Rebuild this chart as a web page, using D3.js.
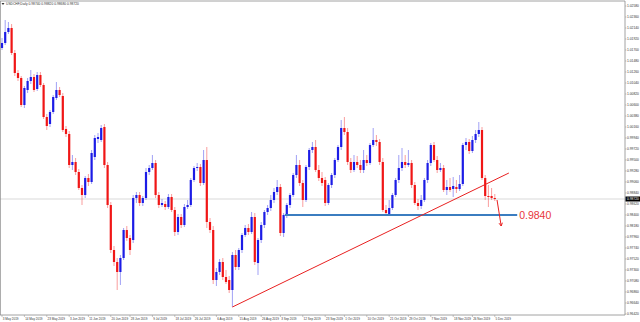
<!DOCTYPE html>
<html><head><meta charset="utf-8">
<script src="https://cdn.jsdelivr.net/npm/d3@7/dist/d3.min.js"></script>
<style>html,body{margin:0;padding:0;background:#fff;overflow:hidden}</style>
</head><body>
<svg id="c" width="640" height="322"></svg>
<script>
const symbol = "USDCHF,Daily";
// [open, high, low, close] per daily bar, 2 May 2019 .. 5 Dec 2019
const candles = [
[1.0164,1.0180,1.0158,1.0174],[1.0174,1.0194,1.0170,1.0184],[1.0184,1.0230,1.0180,1.0206],[1.0206,1.0226,1.0202,1.0214],
[1.0214,1.0222,1.0160,1.0164],[1.0164,1.0170,1.0118,1.0124],[1.0124,1.0130,1.0108,1.0114],[1.0114,1.0118,1.0056,1.0060],
[1.0060,1.0098,1.0054,1.0094],[1.0090,1.0114,1.0084,1.0108],[1.0108,1.0130,1.0102,1.0116],[1.0116,1.0122,1.0086,1.0090],
[1.0092,1.0126,1.0088,1.0120],[1.0120,1.0126,1.0096,1.0100],[1.0100,1.0104,1.0032,1.0036],[1.0036,1.0042,1.0010,1.0018],
[1.0022,1.0050,1.0016,1.0046],[1.0046,1.0080,1.0042,1.0076],[1.0074,1.0106,1.0070,1.0090],[1.0090,1.0096,1.0076,1.0080],
[1.0078,1.0084,1.0006,1.0010],[1.0012,1.0018,0.9996,1.0002],[1.0002,1.0008,0.9934,0.9940],[0.9940,0.9960,0.9930,0.9946],
[0.9946,0.9954,0.9920,0.9926],[0.9926,0.9932,0.9890,0.9894],[0.9894,0.9900,0.9860,0.9880],[0.9880,0.9918,0.9874,0.9914],
[0.9914,0.9922,0.9898,0.9906],[0.9906,0.9970,0.9902,0.9964],[0.9956,1.0000,0.9950,0.9994],[0.9992,1.0004,0.9984,0.9996],
[0.9990,1.0020,0.9986,1.0014],[1.0016,1.0022,0.9934,0.9940],[0.9940,0.9946,0.9854,0.9860],[0.9860,0.9866,0.9764,0.9770],
[0.9770,0.9778,0.9738,0.9746],[0.9746,0.9754,0.9690,0.9726],[0.9726,0.9760,0.9700,0.9754],[0.9754,0.9814,0.9750,0.9810],
[0.9810,0.9818,0.9788,0.9794],[0.9794,0.9800,0.9760,0.9770],[0.9790,0.9880,0.9784,0.9874],[0.9874,0.9886,0.9864,0.9880],
[0.9880,0.9886,0.9858,0.9864],[0.9864,0.9878,0.9858,0.9874],[0.9874,0.9934,0.9870,0.9926],[0.9926,0.9940,0.9920,0.9934],
[0.9934,0.9960,0.9930,0.9944],[0.9944,0.9950,0.9874,0.9880],[0.9880,0.9886,0.9854,0.9860],[0.9860,0.9872,0.9856,0.9864],
[0.9862,0.9868,0.9850,0.9856],[0.9856,0.9882,0.9852,0.9876],[0.9876,0.9882,0.9846,0.9850],[0.9850,0.9856,0.9798,0.9806],
[0.9806,0.9842,0.9800,0.9836],[0.9836,0.9842,0.9814,0.9820],[0.9820,0.9862,0.9816,0.9856],[0.9856,0.9870,0.9852,0.9860],
[0.9860,0.9914,0.9856,0.9910],[0.9910,0.9938,0.9906,0.9934],[0.9934,0.9944,0.9928,0.9936],[0.9936,0.9942,0.9898,0.9904],
[0.9904,0.9970,0.9900,0.9950],[0.9950,0.9976,0.9814,0.9826],[0.9826,0.9834,0.9804,0.9810],[0.9810,0.9818,0.9702,0.9710],
[0.9710,0.9734,0.9698,0.9726],[0.9726,0.9752,0.9720,0.9746],[0.9746,0.9754,0.9710,0.9716],[0.9716,0.9730,0.9702,0.9706],
[0.9710,0.9718,0.9684,0.9690],[0.9690,0.9766,0.9656,0.9760],[0.9760,0.9770,0.9730,0.9736],[0.9736,0.9774,0.9730,0.9770],
[0.9770,0.9804,0.9764,0.9800],[0.9800,0.9820,0.9796,0.9814],[0.9814,0.9822,0.9800,0.9806],[0.9806,0.9846,0.9802,0.9836],
[0.9836,0.9844,0.9740,0.9746],[0.9744,0.9794,0.9720,0.9790],[0.9790,0.9826,0.9784,0.9820],[0.9820,0.9850,0.9814,0.9846],
[0.9846,0.9860,0.9840,0.9854],[0.9854,0.9880,0.9848,0.9870],[0.9870,0.9894,0.9864,0.9886],[0.9886,0.9910,0.9880,0.9896],
[0.9896,0.9902,0.9798,0.9804],[0.9804,0.9844,0.9796,0.9840],[0.9840,0.9864,0.9834,0.9860],[0.9860,0.9884,0.9854,0.9880],
[0.9880,0.9924,0.9876,0.9920],[0.9920,0.9960,0.9914,0.9940],[0.9940,0.9950,0.9898,0.9904],[0.9904,0.9910,0.9856,0.9870],
[0.9870,0.9940,0.9866,0.9936],[0.9936,0.9974,0.9930,0.9970],[0.9970,0.9986,0.9964,0.9976],[0.9976,0.9990,0.9926,0.9930],
[0.9930,0.9940,0.9908,0.9914],[0.9914,0.9926,0.9898,0.9904],[0.9910,0.9916,0.9858,0.9864],[0.9864,0.9904,0.9860,0.9900],
[0.9900,0.9924,0.9894,0.9920],[0.9920,0.9954,0.9914,0.9950],[0.9950,0.9980,0.9946,0.9976],[0.9976,1.0030,0.9970,1.0014],
[1.0014,1.0036,1.0000,1.0006],[1.0006,1.0014,0.9940,0.9946],[0.9946,0.9954,0.9924,0.9930],[0.9930,0.9960,0.9926,0.9946],
[0.9946,0.9958,0.9934,0.9940],[0.9940,0.9950,0.9924,0.9930],[0.9930,0.9970,0.9924,0.9950],[0.9950,0.9960,0.9938,0.9944],
[0.9944,0.9984,0.9940,0.9980],[0.9980,1.0014,0.9976,0.9990],[0.9990,1.0000,0.9978,0.9986],[0.9986,0.9992,0.9940,0.9946],
[0.9946,0.9954,0.9846,0.9850],[0.9850,0.9860,0.9838,0.9844],[0.9842,0.9870,0.9838,0.9854],[0.9854,0.9884,0.9850,0.9880],
[0.9880,0.9914,0.9876,0.9910],[0.9910,0.9960,0.9904,0.9934],[0.9934,0.9974,0.9928,0.9946],[0.9946,0.9960,0.9934,0.9940],
[0.9940,0.9970,0.9936,0.9944],[0.9944,0.9950,0.9894,0.9900],[0.9900,0.9906,0.9860,0.9864],[0.9864,0.9872,0.9850,0.9858],
[0.9858,0.9880,0.9852,0.9870],[0.9870,0.9914,0.9866,0.9910],[0.9910,0.9950,0.9904,0.9944],[0.9944,0.9984,0.9938,0.9980],
[0.9980,0.9986,0.9946,0.9950],[0.9950,0.9958,0.9924,0.9930],[0.9930,0.9944,0.9926,0.9934],[0.9934,0.9940,0.9886,0.9890],
[0.9890,0.9910,0.9880,0.9896],[0.9896,0.9914,0.9886,0.9890],[0.9892,0.9916,0.9876,0.9898],[0.9896,0.9910,0.9884,0.9892],
[0.9892,0.9920,0.9888,0.9902],[0.9902,0.9984,0.9898,0.9980],[0.9980,0.9994,0.9970,0.9986],[0.9986,0.9992,0.9962,0.9968],
[0.9968,0.9998,0.9964,0.9990],[0.9990,1.0010,0.9984,1.0002],[1.0002,1.0026,0.9996,1.0010],[1.0010,1.0016,0.9910,0.9914],
[0.9914,0.9920,0.9870,0.9878],[0.9878,0.9900,0.9856,0.9876],[0.9878,0.9894,0.9870,0.9874],[0.9874,0.9882,0.9868,0.9872]
];
// bar index and text of the time-axis labels
const dateLabels = [
[1,"3 May 2019"],[8,"14 May 2019"],[15,"23 May 2019"],[22,"3 Jun 2019"],[28,"11 Jun 2019"],[35,"20 Jun 2019"],
[41,"28 Jun 2019"],[48,"9 Jul 2019"],[55,"18 Jul 2019"],[61,"26 Jul 2019"],[68,"6 Aug 2019"],[75,"15 Aug 2019"],
[82,"26 Aug 2019"],[88,"3 Sep 2019"],[95,"12 Sep 2019"],[102,"23 Sep 2019"],[108,"1 Oct 2019"],[115,"10 Oct 2019"],
[122,"21 Oct 2019"],[128,"29 Oct 2019"],[135,"7 Nov 2019"],[142,"18 Nov 2019"],[148,"26 Nov 2019"],[155,"5 Dec 2019"]
];
const priceTicks = [1.0258,1.0236,1.0214,1.0192,1.0170,1.0148,1.0126,1.0104,1.0082,1.0060,1.0038,1.0016,0.9994,0.9972,
0.9950,0.9928,0.9906,0.9884,0.9862,0.9840,0.9818,0.9796,0.9774,0.9752,0.9730,0.9708,0.9686,0.9664,0.9642];
const supportLevel = 0.9840;
const supportText = "0.9840";
const supportBars = [89.4, 162];          // from / to (bar index)
const trendLine = [[73, 0.9656], [159.4, 0.9924]];
const arrowLine = [[155.7, 0.9870], [157, 0.9818]];

const svg = d3.select("#c");
const plotR = 625, plotT = 1, plotB = 315;
const x = d3.scaleLinear().domain([0, candles.length - 1]).range([-1.2, 494.8]);
const y = d3.scaleLinear().domain([0.9642, 1.0266]).range([314, 2]);
const BULL = "#1c1ce6", BEAR = "#f01616";
const FONT = "'Liberation Sans', Arial, sans-serif";

svg.append("rect").attr("width", 640).attr("height", 322).attr("fill", "#fff");
svg.append("defs").append("clipPath").attr("id", "plot")
  .append("rect").attr("x", 0).attr("y", plotT).attr("width", plotR).attr("height", plotB - plotT);
const g = svg.append("g").attr("clip-path", "url(#plot)");

// current price line
const last = candles[candles.length - 1];
g.append("line").attr("x1", 0).attr("x2", plotR).attr("y1", y(last[3])).attr("y2", y(last[3]))
  .attr("stroke", "#c8c8c8").attr("stroke-width", 0.7);

// candles
const cg = g.append("g");
candles.forEach((d, i) => {
  const [o, h, l, c] = d;
  const col = c >= o ? BULL : BEAR;
  cg.append("line").attr("x1", x(i)).attr("x2", x(i)).attr("y1", y(h)).attr("y2", y(l))
    .attr("stroke", col).attr("stroke-width", 0.6).attr("stroke-opacity", 0.7);
  const top = y(Math.max(o, c)), bot = y(Math.min(o, c));
  cg.append("rect").attr("x", x(i) - 1.1).attr("width", 2.2)
    .attr("y", top).attr("height", Math.max(0.6, bot - top)).attr("fill", col);
});

// support line
svg.append("line").attr("x1", x(supportBars[0])).attr("x2", x(supportBars[1]))
  .attr("y1", y(supportLevel)).attr("y2", y(supportLevel))
  .attr("stroke", "#3b7dc0").attr("stroke-width", 1.8);
svg.append("text").attr("x", x(supportBars[1]) + 2).attr("y", y(supportLevel) + 4.3)
  .attr("font-family", FONT).attr("font-size", 10.5).attr("fill", "#e8353a").text(supportText);

// trend line
svg.append("line").attr("x1", x(trendLine[0][0])).attr("y1", y(trendLine[0][1]))
  .attr("x2", x(trendLine[1][0])).attr("y2", y(trendLine[1][1]))
  .attr("stroke", "#e82020").attr("stroke-width", 1);

// arrow
const ax1 = x(arrowLine[0][0]), ay1 = y(arrowLine[0][1]), ax2 = x(arrowLine[1][0]), ay2 = y(arrowLine[1][1]);
svg.append("line").attr("x1", ax1).attr("y1", ay1).attr("x2", ax2).attr("y2", ay2)
  .attr("stroke", "#e82020").attr("stroke-width", 1);
const ang = Math.atan2(ay2 - ay1, ax2 - ax1);
const hl = 3.5;
svg.append("path").attr("d", `M${ax2 - hl*Math.cos(ang - 0.5)},${ay2 - hl*Math.sin(ang - 0.5)}L${ax2},${ay2}L${ax2 - hl*Math.cos(ang + 0.5)},${ay2 - hl*Math.sin(ang + 0.5)}`)
  .attr("fill", "none").attr("stroke", "#e82020").attr("stroke-width", 1);

// frame
const fr = svg.append("g").attr("stroke", "#8c8c8c").attr("stroke-width", 0.8);
fr.append("line").attr("x1", 0).attr("x2", plotR).attr("y1", plotT).attr("y2", plotT);
fr.append("line").attr("x1", plotR).attr("x2", plotR).attr("y1", plotT).attr("y2", plotB);
fr.append("line").attr("x1", 0).attr("x2", plotR).attr("y1", plotB).attr("y2", plotB);
fr.append("line").attr("x1", 0.4).attr("x2", 0.4).attr("y1", plotT).attr("y2", plotB);

// price axis
const pa = svg.append("g");
priceTicks.forEach(p => {
  pa.append("line").attr("x1", plotR).attr("x2", plotR + 1.5).attr("y1", y(p)).attr("y2", y(p))
    .attr("stroke", "#8c8c8c").attr("stroke-width", 0.5);
  pa.append("text").attr("x", plotR + 2).attr("y", y(p)).attr("dominant-baseline", "central")
    .attr("font-family", FONT).attr("font-size", 3.3).attr("fill", "#333").text(p.toFixed(5));
});
// current price tag
pa.append("rect").attr("x", plotR + 0.5).attr("y", y(last[3]) - 2.5).attr("width", 15).attr("height", 5).attr("fill", "#000");
pa.append("text").attr("x", plotR + 2).attr("y", y(last[3])).attr("dominant-baseline", "central")
  .attr("font-family", FONT).attr("font-size", 3.3).attr("fill", "#fff").text(last[3].toFixed(5));

// time axis
const ta = svg.append("g");
dateLabels.forEach(([i, t]) => {
  ta.append("line").attr("x1", x(i)).attr("x2", x(i)).attr("y1", plotB).attr("y2", plotB + 2)
    .attr("stroke", "#8c8c8c").attr("stroke-width", 0.5);
  ta.append("text").attr("x", x(i) + 0.8).attr("y", 318.6).attr("dominant-baseline", "central")
    .attr("font-family", FONT).attr("font-size", 3.0).attr("fill", "#333").text(t);
});

// title
svg.append("path").attr("d", "M1.5,3 L4.5,3 L3,5 Z").attr("fill", "#333");
svg.append("text").attr("x", 6).attr("y", 4.2).attr("dominant-baseline", "central")
  .attr("font-family", FONT).attr("font-size", 3.3).attr("fill", "#333")
  .text(symbol + "  " + last.map(v => v.toFixed(5)).join(" "));
</script>
</body></html>
